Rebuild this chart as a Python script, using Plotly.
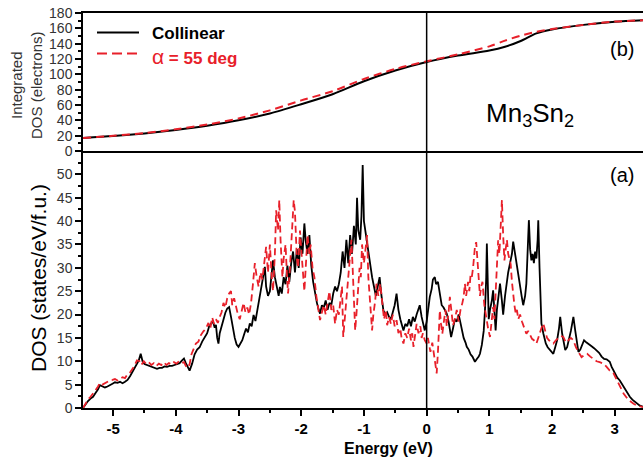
import plotly.graph_objects as go

# ---------------- data ----------------
energy_collinear = [
    -5.48, -5.44, -5.40, -5.36, -5.32, -5.28, -5.24, -5.21, -5.17, -5.13, -5.09, -5.05, -5.01, -4.97, -4.93,
    -4.89, -4.85, -4.81, -4.77, -4.73, -4.69, -4.65, -4.62, -4.59, -4.56, -4.53, -4.50, -4.46, -4.42, -4.38,
    -4.34, -4.30, -4.26, -4.22, -4.18, -4.14, -4.10, -4.06, -4.02, -3.98, -3.94, -3.90, -3.87, -3.84, -3.81,
    -3.78, -3.74, -3.70, -3.66, -3.62, -3.58, -3.54, -3.50, -3.47, -3.44, -3.41, -3.38, -3.36, -3.34, -3.32,
    -3.30, -3.27, -3.24, -3.21, -3.18, -3.15, -3.12, -3.09, -3.06, -3.03, -3.00, -2.97, -2.94, -2.91, -2.88,
    -2.85, -2.82, -2.79, -2.76, -2.73, -2.70, -2.67, -2.64, -2.61, -2.58, -2.56, -2.53, -2.50, -2.47, -2.45,
    -2.42, -2.39, -2.36, -2.34, -2.31, -2.28, -2.25, -2.22, -2.19, -2.16, -2.13, -2.10, -2.07, -2.04, -2.01,
    -1.98, -1.95, -1.93, -1.90, -1.87, -1.84, -1.81, -1.78, -1.75, -1.72, -1.70, -1.67, -1.64, -1.61, -1.58,
    -1.55, -1.52, -1.49, -1.46, -1.43, -1.40, -1.37, -1.34, -1.31, -1.28, -1.25, -1.22, -1.19, -1.16, -1.13,
    -1.11, -1.09, -1.06, -1.04, -1.02, -1.00, -0.98, -0.95, -0.92, -0.90, -0.87, -0.84, -0.81, -0.78, -0.75,
    -0.72, -0.69, -0.66, -0.63, -0.60, -0.57, -0.54, -0.51, -0.48, -0.45, -0.42, -0.39, -0.37, -0.34, -0.31,
    -0.28, -0.25, -0.22, -0.19, -0.16, -0.13, -0.11, -0.08, -0.05, -0.03, 0.00, 0.02, 0.05, 0.08, 0.10,
    0.13, 0.15, 0.18, 0.21, 0.24, 0.27, 0.30, 0.32, 0.35, 0.37, 0.39, 0.42, 0.45, 0.48, 0.51,
    0.53, 0.56, 0.59, 0.62, 0.64, 0.67, 0.70, 0.73, 0.75, 0.77, 0.80, 0.83, 0.85, 0.88, 0.91,
    0.93, 0.95, 0.96, 0.98, 0.99, 1.01, 1.04, 1.06, 1.08, 1.10, 1.12, 1.15, 1.17, 1.20, 1.22,
    1.25, 1.27, 1.30, 1.33, 1.36, 1.38, 1.41, 1.44, 1.47, 1.49, 1.52, 1.54, 1.57, 1.59, 1.61,
    1.63, 1.65, 1.67, 1.69, 1.71, 1.73, 1.75, 1.77, 1.78, 1.80, 1.81, 1.83, 1.86, 1.90, 1.93,
    1.96, 1.99, 2.02, 2.05, 2.08, 2.11, 2.13, 2.16, 2.19, 2.21, 2.24, 2.27, 2.30, 2.32, 2.34,
    2.37, 2.40, 2.42, 2.45, 2.48, 2.51, 2.55, 2.59, 2.63, 2.67, 2.71, 2.75, 2.79, 2.83, 2.87,
    2.90, 2.92, 2.95, 2.98, 3.01, 3.04, 3.08, 3.12, 3.16, 3.20, 3.24, 3.28, 3.32, 3.36, 3.40, 3.45,
]
dos_collinear = [
    0.0, 0.8, 1.5, 2.0, 2.4, 3.2, 4.0, 4.9, 4.6, 4.4, 4.6, 5.0, 5.2, 5.5, 5.4,
    5.6, 5.3, 5.6, 6.0, 6.8, 7.8, 8.8, 9.6, 10.2, 11.6, 10.0, 9.4, 9.2, 9.0, 8.7,
    8.5, 8.4, 8.6, 8.6, 8.9, 8.8, 9.0, 9.0, 9.2, 9.4, 9.6, 10.2, 10.6, 9.6, 8.6,
    8.0, 9.5, 11.5, 12.5, 13.0, 14.2, 15.0, 16.0, 17.4, 18.0, 18.6, 17.2, 17.8, 15.0, 13.8,
    16.0, 17.5, 19.2, 20.4, 21.3, 21.6, 19.5, 17.0, 15.0, 13.6, 13.1, 13.8, 14.5, 15.8, 17.0,
    16.2, 18.1, 17.5, 19.9, 18.6, 20.9, 22.5, 25.2, 27.0, 30.2, 26.0, 24.0, 25.0, 29.0, 31.6,
    28.0, 26.0, 24.0, 25.9, 24.5, 28.0, 26.5, 30.5, 27.0, 31.0, 33.5, 29.0, 34.0, 30.0, 36.5,
    33.0, 39.5, 36.0, 33.0, 37.0, 30.5, 27.0, 24.5, 22.5, 21.0, 20.2, 22.0, 21.5, 23.0, 21.0,
    22.5, 22.0, 24.5, 26.0, 25.0, 26.5, 29.0, 33.5, 30.0, 36.0, 31.0, 37.0, 33.0, 39.0, 35.0,
    45.0, 38.0, 36.0, 41.0, 52.0, 40.0, 38.0, 35.0, 32.0, 30.0, 28.0, 26.0, 24.0, 26.0, 28.0,
    24.0, 20.9, 20.0, 20.5, 19.5, 19.0, 20.5, 22.0, 24.5, 21.0, 19.0, 17.5, 16.6, 18.0, 17.5,
    19.0, 17.5, 19.5, 18.5, 20.0, 21.0, 22.0, 19.5, 17.5, 16.6, 18.5, 21.0, 23.8, 25.5, 27.5,
    28.0, 26.5, 27.0, 24.5, 22.0, 21.5, 20.5, 20.2, 18.5, 16.5, 15.2, 17.0, 19.0, 18.5, 20.0,
    18.8, 17.0, 15.0, 14.0, 13.1, 12.5, 11.5, 11.0, 10.5, 9.9, 10.5, 11.0, 11.6, 13.5, 16.5,
    20.9, 28.0, 35.2, 24.0, 19.0, 21.0, 23.0, 25.2, 20.0, 16.6, 21.0, 24.0, 26.6, 23.0, 20.0,
    24.0, 26.6, 29.0, 31.0, 33.0, 35.6, 33.0, 30.0, 27.0, 25.2, 23.5, 22.0, 24.0, 26.6, 32.0,
    40.2, 34.0, 31.6, 33.0, 31.0, 33.5, 32.0, 36.0, 40.2, 30.0, 26.6, 18.1, 16.0, 13.8, 13.0,
    12.5, 12.0, 11.6, 13.0, 14.5, 17.0, 19.5, 16.0, 13.5, 12.4, 13.0, 14.5, 16.5, 18.0, 19.5,
    16.5, 13.5, 12.0, 12.5, 13.5, 14.5, 14.0, 13.5, 13.2, 12.8, 12.4, 11.8, 11.0, 10.5, 10.4,
    10.0, 9.9, 8.8, 8.0, 7.2, 6.5, 5.9, 5.0, 4.0, 3.1, 2.4, 1.8, 1.3, 0.8, 0.5, 0.3,
]

energy_alpha55 = [
    -5.48, -5.44, -5.40, -5.36, -5.32, -5.28, -5.24, -5.21, -5.17, -5.13, -5.09, -5.05, -5.01, -4.97, -4.93,
    -4.89, -4.85, -4.81, -4.77, -4.73, -4.69, -4.66, -4.62, -4.58, -4.55, -4.51, -4.47, -4.43, -4.39, -4.35,
    -4.31, -4.27, -4.23, -4.19, -4.15, -4.11, -4.07, -4.03, -3.99, -3.95, -3.91, -3.87, -3.84, -3.81, -3.78,
    -3.75, -3.72, -3.68, -3.64, -3.60, -3.56, -3.52, -3.48, -3.45, -3.42, -3.39, -3.36, -3.33, -3.30, -3.27,
    -3.24, -3.21, -3.18, -3.15, -3.12, -3.10, -3.07, -3.04, -3.01, -2.98, -2.95, -2.92, -2.89, -2.86, -2.83,
    -2.80, -2.77, -2.74, -2.71, -2.68, -2.65, -2.62, -2.59, -2.56, -2.53, -2.50, -2.47, -2.45, -2.42, -2.40,
    -2.37, -2.35, -2.33, -2.30, -2.28, -2.25, -2.23, -2.21, -2.18, -2.16, -2.14, -2.12, -2.10, -2.07, -2.05,
    -2.02, -2.00, -1.97, -1.95, -1.92, -1.90, -1.87, -1.85, -1.82, -1.79, -1.76, -1.73, -1.70, -1.67, -1.64,
    -1.61, -1.58, -1.55, -1.52, -1.49, -1.46, -1.43, -1.40, -1.37, -1.35, -1.33, -1.30, -1.28, -1.25, -1.22,
    -1.20, -1.18, -1.16, -1.14, -1.12, -1.09, -1.07, -1.05, -1.03, -1.00, -0.98, -0.95, -0.93, -0.90, -0.87,
    -0.85, -0.82, -0.80, -0.77, -0.74, -0.71, -0.68, -0.65, -0.63, -0.60, -0.57, -0.54, -0.51, -0.48, -0.45,
    -0.42, -0.40, -0.37, -0.34, -0.31, -0.28, -0.25, -0.23, -0.21, -0.18, -0.16, -0.13, -0.10, -0.08, -0.06,
    -0.03, 0.00, 0.02, 0.04, 0.06, 0.09, 0.12, 0.14, 0.16, 0.18, 0.20, 0.21, 0.23, 0.25, 0.28,
    0.30, 0.32, 0.35, 0.37, 0.40, 0.42, 0.45, 0.48, 0.51, 0.54, 0.57, 0.59, 0.61, 0.63, 0.66,
    0.68, 0.70, 0.72, 0.74, 0.76, 0.77, 0.79, 0.81, 0.83, 0.85, 0.87, 0.89, 0.92, 0.95, 0.98,
    1.01, 1.03, 1.06, 1.08, 1.10, 1.12, 1.14, 1.16, 1.18, 1.20, 1.22, 1.24, 1.26, 1.28, 1.30,
    1.32, 1.34, 1.36, 1.38, 1.40, 1.42, 1.44, 1.46, 1.49, 1.52, 1.55, 1.57, 1.59, 1.62, 1.65,
    1.68, 1.71, 1.73, 1.75, 1.78, 1.81, 1.84, 1.86, 1.89, 1.92, 1.95, 1.99, 2.02, 2.06, 2.10,
    2.14, 2.18, 2.22, 2.26, 2.30, 2.34, 2.38, 2.42, 2.47, 2.51, 2.56, 2.61, 2.66, 2.71, 2.76,
    2.82, 2.87, 2.92, 2.98, 3.03, 3.08, 3.14, 3.19, 3.24, 3.30, 3.36, 3.45,
]
dos_alpha55 = [
    0.0, 1.0, 1.8, 2.4, 3.0, 3.8, 4.6, 5.4, 5.0, 5.3, 5.6, 5.9, 6.0, 6.2, 5.9,
    6.3, 6.6, 6.4, 7.2, 7.6, 8.4, 9.0, 10.2, 10.0, 9.2, 10.0, 9.4, 9.8, 9.2, 9.6,
    9.0, 9.5, 9.2, 9.8, 9.2, 9.6, 9.3, 9.8, 9.5, 10.0, 9.6, 9.8, 9.0, 8.6, 9.4,
    11.5, 12.5, 13.8, 14.2, 15.6, 16.4, 17.0, 18.2, 17.0, 19.4, 18.0, 19.0, 18.2, 19.5, 20.5,
    22.5, 21.5, 23.5, 24.5, 25.0, 22.0, 23.5, 21.5, 20.0, 19.0, 21.0, 22.5, 20.5, 21.5, 20.0,
    22.5, 26.5, 31.0, 28.0, 26.0, 29.0, 27.5, 31.0, 34.5, 29.0, 35.0, 28.0, 25.0, 33.0, 42.3,
    38.0, 44.5, 36.0, 28.0, 32.0, 35.0, 29.0, 24.5, 30.0, 35.0, 40.0, 44.5, 42.0, 32.0, 30.0,
    38.0, 34.0, 28.0, 25.0, 32.0, 37.0, 33.0, 35.0, 30.0, 28.0, 24.0, 21.0, 18.8, 20.5, 22.0,
    20.0, 23.0, 25.0, 21.0, 22.0, 18.0, 21.0, 20.0, 24.0, 26.0, 15.2, 20.0, 25.0, 28.0, 33.0,
    36.0, 30.0, 22.0, 16.6, 20.0, 26.0, 30.0, 28.0, 35.0, 31.0, 34.0, 37.0, 28.0, 22.0, 16.6,
    20.0, 23.0, 26.6, 24.0, 26.6, 22.0, 19.0, 21.0, 17.7, 19.5, 18.0, 20.0, 17.5, 18.8, 16.0,
    17.0, 15.0, 13.8, 16.0, 15.0, 17.0, 14.5, 16.0, 13.1, 15.5, 18.0, 16.0, 17.5, 15.0, 16.0,
    14.5, 13.8, 15.0, 13.0, 12.0, 14.0, 11.0, 9.0, 7.4, 12.0, 17.0, 20.9, 18.0, 15.9, 19.0,
    21.0, 17.5, 20.5, 23.8, 20.0, 17.7, 19.0, 21.0, 18.5, 21.0, 22.5, 23.8, 26.6, 24.0, 27.0,
    25.0, 28.5, 28.0, 30.0, 33.0, 34.5, 35.5, 31.0, 27.0, 24.0, 26.0, 27.0, 22.0, 19.0, 17.0,
    15.2, 18.0, 21.6, 19.0, 25.0, 30.0, 35.9, 33.0, 38.0, 44.5, 37.0, 31.6, 34.0, 36.0, 33.0,
    31.5, 30.8, 27.0, 24.0, 22.0, 20.2, 21.0, 19.0, 20.0, 18.5, 17.5, 16.5, 15.9, 16.5, 15.5,
    14.8, 14.5, 14.0, 13.8, 15.0, 16.5, 17.5, 18.1, 16.5, 15.0, 14.5, 14.2, 13.8, 14.5, 15.0,
    15.4, 15.2, 14.0, 14.5, 15.0, 14.5, 13.0, 12.0, 10.9, 11.3, 11.6, 11.0, 10.5, 10.0, 9.8,
    9.5, 8.8, 8.0, 7.4, 6.0, 4.5, 3.1, 2.2, 1.5, 0.9, 0.5, 0.2,
]

energy_integrated = [-5.48, -5.0, -4.5, -4.0, -3.5, -3.0, -2.5, -2.0, -1.5, -1.0, -0.5, 0.0,
                     0.5, 1.0, 1.25, 1.5, 1.75, 2.0, 2.5, 3.0, 3.45]
int_dos_collinear = [17.0, 19.5, 23.0, 27.5, 33.0, 40.0, 49.0, 61.0, 74.0, 91.0, 105.0, 116.0,
                     124.5, 131.0, 136.0, 143.5, 153.5, 158.5, 164.5, 168.5, 170.5]
int_dos_alpha55 = [17.0, 19.8, 23.5, 28.3, 34.5, 42.5, 53.0, 66.0, 78.0, 94.0, 107.0, 117.0,
                   126.0, 136.5, 144.0, 150.5, 155.5, 159.0, 164.5, 168.8, 170.5]

series_names = ["Collinear", "α = 55 deg"]
legend_labels = ["<b>Collinear</b>",
                 "<span style='font-size:21px'>α</span><b> = 55 deg</b>"]
x_ticks = [-5, -4, -3, -2, -1, 0, 1, 2, 3]
x_tick_text = ["-5", "-4", "-3", "-2", "-1", "0", "1", "2", "3"]
dos_ticks = [0, 5, 10, 15, 20, 25, 30, 35, 40, 45, 50]
int_ticks = [0, 20, 40, 60, 80, 100, 120, 140, 160, 180]

# ---------------- styling ----------------
BLACK = "#000000"
RED = "#e8202a"
FONT = "Liberation Sans, Arial, sans-serif"
W, H = 643, 461
ML, MR, MT, MB = 83, 0, 13, 53
split = 0.6506


def py(pix):
    """convert a pixel row to paper y"""
    return (H - MB - pix) / (H - MT - MB)


def px(pix):
    """convert a pixel column to paper x"""
    return (pix - ML) / (W - ML - MR)


fig = go.Figure()

# top panel: integrated DOS
fig.add_trace(go.Scatter(x=energy_integrated, y=int_dos_collinear, mode="lines",
                         line=dict(color=BLACK, width=2, shape="spline", smoothing=0.8),
                         name=series_names[0], xaxis="x2", yaxis="y2"))
fig.add_trace(go.Scatter(x=energy_integrated, y=int_dos_alpha55, mode="lines",
                         line=dict(color=RED, width=2, dash="8px,5px", shape="spline", smoothing=0.8),
                         name=series_names[1], xaxis="x2", yaxis="y2"))
# bottom panel: DOS
fig.add_trace(go.Scatter(x=energy_collinear, y=dos_collinear, mode="lines",
                         line=dict(color=BLACK, width=1.8),
                         name=series_names[0], xaxis="x", yaxis="y"))
fig.add_trace(go.Scatter(x=energy_alpha55, y=dos_alpha55, mode="lines",
                         line=dict(color=RED, width=1.8, dash="7px,4px"),
                         name=series_names[1], xaxis="x", yaxis="y"))

axis_line = dict(showline=True, linecolor=BLACK, linewidth=1.5, showgrid=False, zeroline=False)

fig.update_layout(
    width=W, height=H,
    margin=dict(l=ML, r=MR, t=MT, b=MB),
    paper_bgcolor="white", plot_bgcolor="white",
    font=dict(family=FONT, color=BLACK),
    showlegend=False,
    xaxis=dict(domain=[0, 1], range=[-5.48, 3.45], anchor="y",
               tickvals=x_ticks, ticktext=x_tick_text,
               ticks="outside", ticklen=6, tickwidth=1.5, tickcolor=BLACK,
               minor=dict(dtick=0.5, tick0=0, ticks="outside", ticklen=3, tickwidth=1.5, tickcolor=BLACK),
               tickfont=dict(size=15, family=FONT, color=BLACK, weight="bold"),
               **axis_line),
    xaxis2=dict(domain=[0, 1], matches="x", anchor="y2", showticklabels=False, ticks="",
                mirror=True, **axis_line),
    yaxis=dict(domain=[0, split], range=[0, 55], anchor="x",
               tickvals=dos_ticks, ticks="outside", ticklen=6, tickwidth=1.5, tickcolor=BLACK,
               minor=dict(dtick=2.5, tick0=0, ticks="outside", ticklen=3, tickwidth=1.5, tickcolor=BLACK),
               tickfont=dict(size=14, family=FONT, color="#333333"),
               **axis_line),
    yaxis2=dict(domain=[split, 1], range=[0, 180], anchor="x2",
                tickvals=int_ticks, ticks="outside", ticklen=6, tickwidth=1.5, tickcolor=BLACK,
                minor=dict(dtick=10, tick0=0, ticks="outside", ticklen=3, tickwidth=1.5, tickcolor=BLACK),
                tickfont=dict(size=14, family=FONT, color="#333333"),
                **axis_line),
)

# vertical line at E = 0 through both panels
fig.add_shape(type="line", xref="x", yref="paper", x0=0, x1=0, y0=0, y1=1,
              line=dict(color=BLACK, width=1.5))

# legend (drawn by hand to match the reference's long sample lines)
legend_rows = [(legend_labels[0], BLACK, "solid", 32.5, 33),
               (legend_labels[1], RED, "10px,5px", 53.5, 56)]
for label, colour, dash, line_row, text_row in legend_rows:
    fig.add_shape(type="line", xref="paper", yref="paper",
                  x0=px(97), x1=px(139), y0=py(line_row), y1=py(line_row),
                  line=dict(color=colour, width=2, dash=dash))
    fig.add_annotation(text=label, xref="paper", yref="paper",
                       x=px(150), y=py(text_row), xanchor="left", yanchor="middle",
                       showarrow=False, font=dict(size=17, color=colour))

annotations = [
    dict(text="DOS (states/eV/f.u.)", x=0, xshift=38 - ML, y=py(278), textangle=-90,
         font=dict(size=21, color=BLACK)),
    dict(text="Integrated<br>DOS (electrons)", x=0, xshift=27 - ML, y=py(85), textangle=-90,
         font=dict(size=15, color="#333333")),
    dict(text="<b>Energy (eV)</b>", x=px(388), y=py(448), font=dict(size=16, color=BLACK)),
    dict(text="(b)", x=px(622), y=py(49), font=dict(size=20, color=BLACK)),
    dict(text="(a)", x=px(622), y=py(175), font=dict(size=20, color=BLACK)),
    dict(text="Mn<sub>3</sub>Sn<sub>2</sub>", x=px(530), y=py(114), font=dict(size=26, color=BLACK)),
]
for a in annotations:
    fig.add_annotation(xref="paper", yref="paper", showarrow=False,
                       xanchor="center", yanchor="middle", **a)

fig.write_html("out.html")
